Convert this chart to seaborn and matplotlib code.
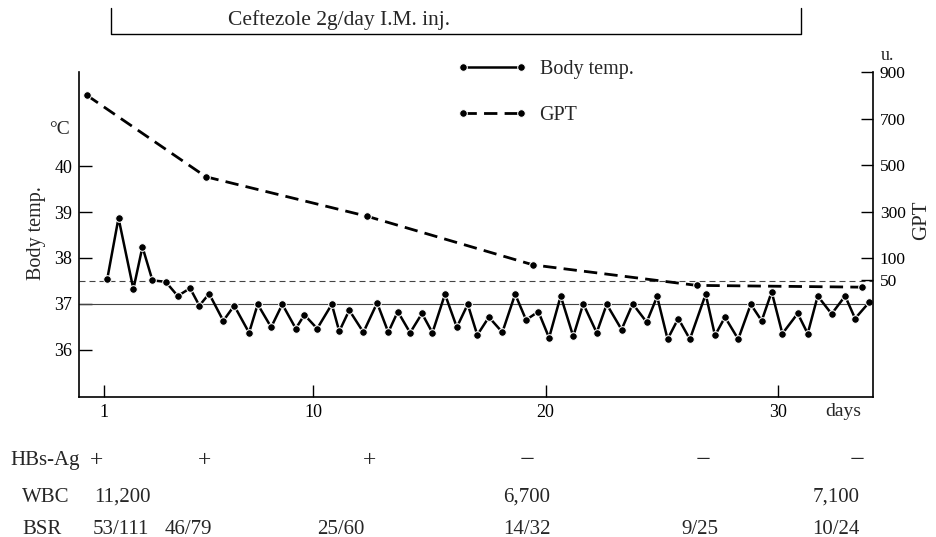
import numpy as np
import matplotlib
matplotlib.use("Agg")
import matplotlib.pyplot as plt
from matplotlib.lines import Line2D
import seaborn as sns

sns.set_style("ticks")
plt.rcParams['font.family'] = ['Liberation Serif', 'DejaVu Serif']

# body temperature, read twice a day (day, degC)
temp_day = [1.14, 1.62, 2.26, 2.65, 3.08, 3.65, 4.17, 4.70, 5.10, 5.52,
            6.13, 6.60, 7.24, 7.61, 8.19, 8.67, 9.25, 9.62, 10.17, 10.80,
            11.12, 11.55, 12.16, 12.75, 13.23, 13.64, 14.17, 14.68, 15.13, 15.67,
            16.18, 16.65, 17.06, 17.56, 18.14, 18.69, 19.16, 19.69, 20.15, 20.65,
            21.19, 21.62, 22.20, 22.63, 23.27, 23.75, 24.35, 24.80, 25.25, 25.71,
            26.21, 26.89, 27.29, 27.72, 28.29, 28.83, 29.30, 29.73, 30.19, 30.85,
            31.28, 31.71, 32.31, 32.89, 33.32, 33.92]
temp_c = [37.55, 38.87, 37.32, 38.24, 37.51, 37.48, 37.17, 37.34, 36.96, 37.22,
          36.63, 36.96, 36.37, 36.99, 36.49, 36.99, 36.46, 36.76, 36.46, 36.99,
          36.40, 36.86, 36.38, 37.02, 36.38, 36.83, 36.37, 36.79, 36.37, 37.21,
          36.49, 36.99, 36.32, 36.71, 36.38, 37.21, 36.65, 36.83, 36.26, 37.17,
          36.29, 37.00, 36.37, 36.99, 36.44, 37.00, 36.60, 37.16, 36.23, 36.68,
          36.23, 37.21, 36.31, 36.71, 36.23, 36.99, 36.63, 37.26, 36.35, 36.79,
          36.35, 37.17, 36.78, 37.17, 36.68, 37.03]

# GPT (u.)
gpt_day = [0.26, 5.38, 12.33, 19.47, 26.50, 33.60]
gpt_u = [800, 450, 280, 85, 39, 35]

# lab table under the chart
hbs_ag = ['+', '+', '+', '\u2212', '\u2212', '\u2212']
wbc = ['11,200', '6,700', '7,100']
bsr = ['53/111', '46/79', '25/60', '14/32', '9/25', '10/24']

# --- layout (pixel columns of the table text) ---
W, H = 937, 537
hbs_px = [97, 205, 370, 527, 703, 857]
wbc_px = [122, 527, 836]
bsr_px = [121, 188, 341, 527, 700, 836]


def fx(px):
    return px / W


def fy(py):
    return 1 - py / H


fig = plt.figure(figsize=(W / 100, H / 100), dpi=100)
ax = fig.add_axes([fx(79), fy(397), (873 - 79) / W, (397 - 72) / H])

# reference lines
ax.axhline(37, color='#444444', lw=0.8)
ax.axhline(37.5, color='#444444', lw=0.8, ls=(0, (5.4, 3.6)))

sns.lineplot(x=temp_day, y=temp_c, ax=ax, color='black', lw=1.8,
             marker='o', markersize=5.5, sort=False, legend=False)
temp_line = ax.lines[-1]

ax.set_xlim(-0.08, 34.09)
ax.set_ylim(34.97, 42.05)
ax.set_yticks([36, 37, 38, 39, 40])
ax.set_xticks([1, 10, 20, 30])
ax.set_xticks([d for d in range(1, 35) if d not in (1, 10, 20, 30)], minor=True)
ax.tick_params(axis='both', which='major', direction='in', length=9, width=1,
               labelsize=13, pad=5, colors='black')
ax.tick_params(axis='x', which='minor', direction='in', length=5, width=1)
for s in ['top', 'right']:
    ax.spines[s].set_visible(False)
for s in ['left', 'bottom']:
    ax.spines[s].set_color('black')
    ax.spines[s].set_linewidth(1.2)


# GPT axis: linear from 100 up, stretched below 100 so 50 sits on the 37.5 line
def fwd(v):
    v = np.asarray(v, dtype=float)
    return np.where(v >= 100, v, 100 - (100 - v) * 1.91)


def inv(p):
    p = np.asarray(p, dtype=float)
    return np.where(p >= 100, p, 100 - (100 - p) / 1.91)


ax2 = ax.twinx()
ax2.set_yscale('function', functions=(fwd, inv))
sns.lineplot(x=gpt_day, y=gpt_u, ax=ax2, color='black', lw=2.0,
             marker='o', markersize=5.5, sort=False, legend=False)
gpt_line = ax2.lines[-1]
gpt_line.set_dashes((4.8, 2.6))
ax2.set_ylim(-212, 894)
ax2.set_yticks([50, 100, 300, 500, 700, 900])
ax2.set_yticklabels(['50', '100', '300', '500', '700', '900'])
ax2.minorticks_off()
ax2.tick_params(axis='y', direction='in', length=9, width=1, labelsize=12.5, pad=5,
                colors='black')
for s in ['top', 'left', 'bottom']:
    ax2.spines[s].set_visible(False)
ax2.spines['right'].set_color('black')
ax2.spines['right'].set_linewidth(1.2)
ax2.set_ylabel('')

ax2.legend([temp_line, gpt_line], ['Body temp.', 'GPT'], numpoints=2,
           frameon=False, loc='upper left', bbox_to_anchor=(fx(457), fy(60)),
           bbox_transform=fig.transFigure, borderpad=0, borderaxespad=0,
           handlelength=3.5, handletextpad=0.6, labelspacing=1.35, fontsize=14.5)

# axis texts
fig.text(fx(60), fy(130), '\u00b0C', ha='center', va='center', fontsize=14)
fig.text(fx(36), fy(233), 'Body temp.', ha='center', va='center', rotation=90, fontsize=14.5)
fig.text(fx(887), fy(55), 'u.', ha='center', va='center', fontsize=13)
fig.text(fx(922), fy(220), 'GPT', ha='center', va='center', rotation=90, fontsize=15)
fig.text(fx(843), fy(411), 'days', ha='center', va='center', fontsize=14)

# treatment bracket on top
fig.add_artist(Line2D([fx(111), fx(111), fx(801), fx(801)],
                      [fy(8), fy(34), fy(34), fy(8)], color='black', lw=1))
fig.text(fx(339), fy(20), 'Ceftezole 2g/day I.M. inj.', ha='center', va='center',
         fontsize=15.5)

# lab table
fig.text(fx(10), fy(461), 'HBs-Ag', ha='left', va='center', fontsize=15)
fig.text(fx(22), fy(497), 'WBC', ha='left', va='center', fontsize=15)
fig.text(fx(22), fy(529), 'BSR', ha='left', va='center', fontsize=15)
for px, t in zip(hbs_px, hbs_ag):
    fig.text(fx(px), fy(461), t, ha='center', va='center', fontsize=17 if t == '+' else 19)
for px, t in zip(wbc_px, wbc):
    fig.text(fx(px), fy(497), t, ha='center', va='center', fontsize=15)
for px, t in zip(bsr_px, bsr):
    fig.text(fx(px), fy(529), t, ha='center', va='center', fontsize=15)

fig.savefig('out.png', dpi=100)
